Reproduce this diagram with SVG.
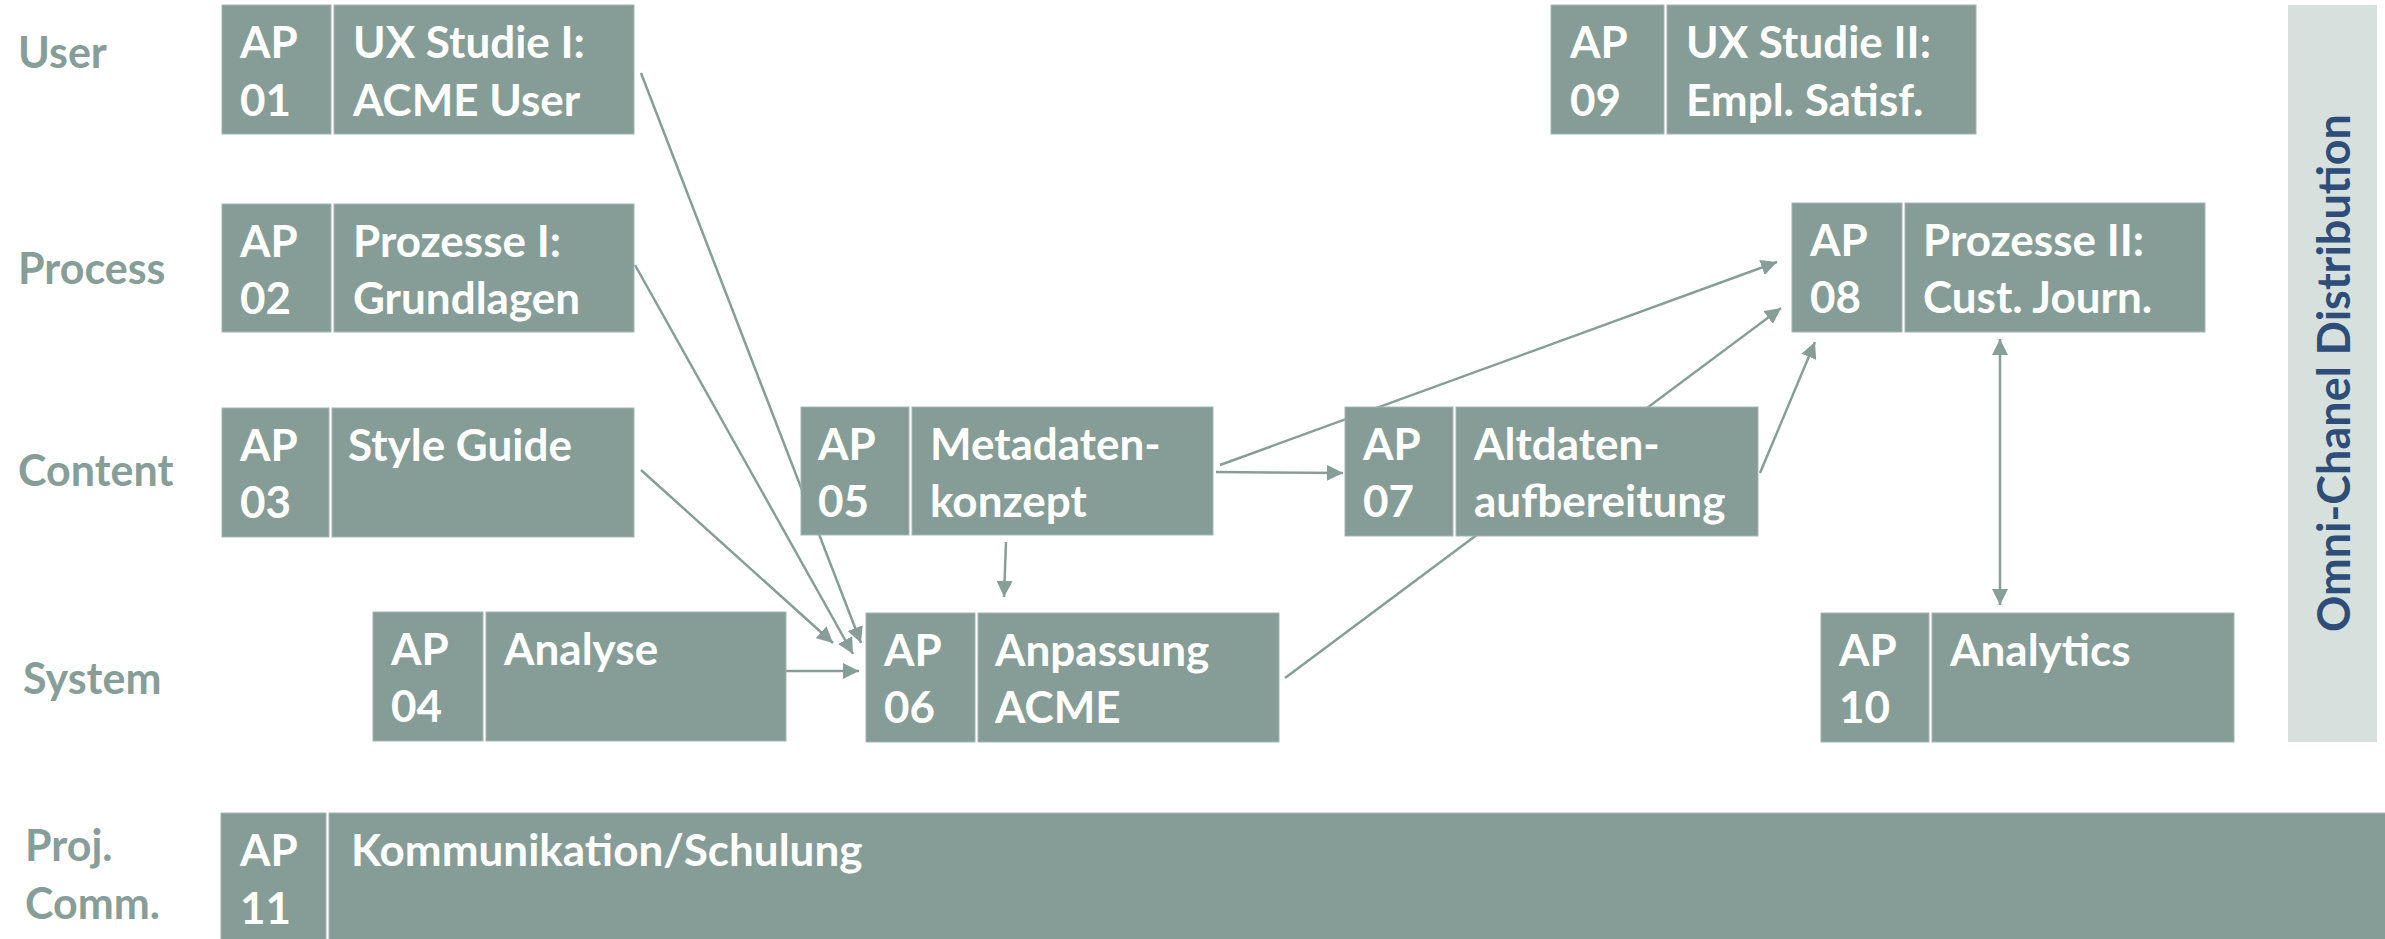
<svg xmlns="http://www.w3.org/2000/svg" width="2385" height="939" viewBox="0 0 2385 939">
<style>
  .cell { fill: #859d96; stroke: #a3b6b0; stroke-width: 1; }
  .t { font-family: Lato, "Open Sans", sans-serif; font-weight: 700; font-size: 44px; fill: #ffffff; }
  .lab { font-family: Lato, "Open Sans", sans-serif; font-weight: 700; font-size: 43px; fill: #869e97; }
  .conn { stroke: #869e97; stroke-width: 2.5; fill: none; marker-end: url(#ah); }
  .omni { font-family: Lato, "Open Sans", sans-serif; font-weight: 700; font-size: 45px; fill: #2e4d78; }
</style>
<defs>
  <marker id="ah" markerUnits="userSpaceOnUse" markerWidth="18" markerHeight="16" refX="16" refY="8" orient="auto">
    <path d="M0,0 L16,8 L0,16 Z" fill="#869e97"/>
  </marker>
  <marker id="ahs" markerUnits="userSpaceOnUse" markerWidth="18" markerHeight="16" refX="2" refY="8" orient="auto">
    <path d="M18,0 L2,8 L18,16 Z" fill="#869e97"/>
  </marker>
</defs>
<rect width="2385" height="939" fill="#ffffff"/>

<g id="lane-labels">
  <text class="lab" x="18" y="68">User</text>
  <text class="lab" x="18" y="284">Process</text>
  <text class="lab" x="18" y="486">Content</text>
  <text class="lab" x="23" y="694">System</text>
  <text class="lab" x="25" y="861">Proj.</text>
  <text class="lab" x="25" y="919">Comm.</text>
</g>

<g id="omni-channel">
  <rect x="2288" y="5" width="89" height="737" fill="#d6e0dd"/>
  <text class="omni" transform="translate(2350,373) rotate(-90)" text-anchor="middle">Omni-Chanel Distribution</text>
</g>

<g id="connectors">
  <line class="conn" x1="641" y1="73" x2="861" y2="643"/>
  <line class="conn" x1="635" y1="265" x2="853" y2="654"/>
  <line class="conn" x1="641" y1="470" x2="833" y2="643"/>
  <line class="conn" x1="786" y1="671" x2="859" y2="671"/>
  <line class="conn" x1="1006" y1="542" x2="1004" y2="597"/>
  <line class="conn" x1="1216" y1="472" x2="1343" y2="473"/>
  <line class="conn" x1="1220" y1="465" x2="1777" y2="262"/>
  <line class="conn" x1="1285" y1="678" x2="1781" y2="308"/>
  <line class="conn" x1="1760" y1="473" x2="1815" y2="342"/>
  <line class="conn" x1="2000" y1="339" x2="2000" y2="605" marker-start="url(#ahs)"/>
</g>

<g id="ap01">
  <rect class="cell" x="222" y="5" width="109" height="129"/>
  <rect class="cell" x="334" y="5" width="300" height="129"/>
  <text class="t" x="240" y="58">AP</text><text class="t" x="240" y="116">01</text>
  <text class="t" x="353" y="58">UX Studie I:</text><text class="t" x="353" y="116">ACME User</text>
</g>
<g id="ap02">
  <rect class="cell" x="222" y="204" width="109" height="128"/>
  <rect class="cell" x="334" y="204" width="300" height="128"/>
  <text class="t" x="240" y="257">AP</text><text class="t" x="240" y="314">02</text>
  <text class="t" x="353" y="257">Prozesse I:</text><text class="t" x="353" y="314">Grundlagen</text>
</g>
<g id="ap03">
  <rect class="cell" x="222" y="408" width="107" height="129"/>
  <rect class="cell" x="332" y="408" width="302" height="129"/>
  <text class="t" x="240" y="461">AP</text><text class="t" x="240" y="518">03</text>
  <text class="t" x="348" y="461">Style Guide</text>
</g>
<g id="ap04">
  <rect class="cell" x="373" y="612" width="110" height="129"/>
  <rect class="cell" x="486" y="612" width="300" height="129"/>
  <text class="t" x="391" y="665">AP</text><text class="t" x="391" y="722">04</text>
  <text class="t" x="504" y="665">Analyse</text>
</g>
<g id="ap05">
  <rect class="cell" x="801" y="407" width="108" height="128"/>
  <rect class="cell" x="912" y="407" width="301" height="128"/>
  <text class="t" x="818" y="460">AP</text><text class="t" x="818" y="517">05</text>
  <text class="t" x="930" y="460">Metadaten-</text><text class="t" x="930" y="517">konzept</text>
</g>
<g id="ap06">
  <rect class="cell" x="866" y="613" width="109" height="129"/>
  <rect class="cell" x="978" y="613" width="301" height="129"/>
  <text class="t" x="884" y="666">AP</text><text class="t" x="884" y="723">06</text>
  <text class="t" x="995" y="666">Anpassung</text><text class="t" x="995" y="723">ACME</text>
</g>
<g id="ap07">
  <rect class="cell" x="1345" y="407" width="108" height="129"/>
  <rect class="cell" x="1456" y="407" width="302" height="129"/>
  <text class="t" x="1363" y="460">AP</text><text class="t" x="1363" y="517">07</text>
  <text class="t" x="1474" y="460">Altdaten-</text><text class="t" x="1474" y="517">aufbereitung</text>
</g>
<g id="ap08">
  <rect class="cell" x="1792" y="203" width="110" height="129"/>
  <rect class="cell" x="1905" y="203" width="300" height="129"/>
  <text class="t" x="1810" y="256">AP</text><text class="t" x="1810" y="313">08</text>
  <text class="t" x="1923" y="256">Prozesse II:</text><text class="t" x="1923" y="313">Cust. Journ.</text>
</g>
<g id="ap09">
  <rect class="cell" x="1551" y="5" width="113" height="129"/>
  <rect class="cell" x="1667" y="5" width="309" height="129"/>
  <text class="t" x="1570" y="58">AP</text><text class="t" x="1570" y="116">09</text>
  <text class="t" x="1686" y="58">UX Studie II:</text><text class="t" x="1686" y="116">Empl. Satisf.</text>
</g>
<g id="ap10">
  <rect class="cell" x="1821" y="613" width="108" height="129"/>
  <rect class="cell" x="1932" y="613" width="302" height="129"/>
  <text class="t" x="1839" y="666">AP</text><text class="t" x="1839" y="723">10</text>
  <text class="t" x="1950" y="666">Analytics</text>
</g>
<g id="ap11">
  <rect class="cell" x="221" y="813" width="105" height="140"/>
  <rect class="cell" x="329" y="813" width="2070" height="140"/>
  <text class="t" x="240" y="866">AP</text><text class="t" x="240" y="924">11</text>
  <text class="t" x="351" y="866">Kommunikation/Schulung</text>
</g>
</svg>
